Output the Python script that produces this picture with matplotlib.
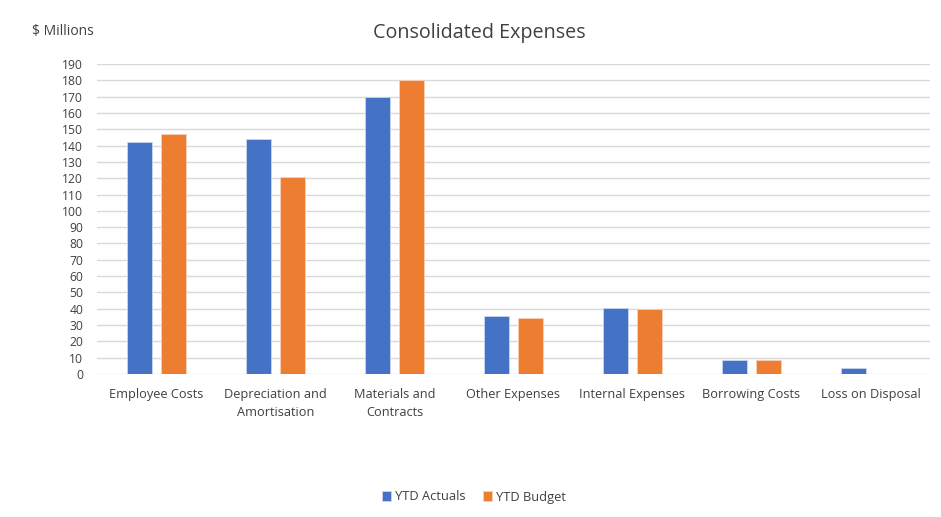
import matplotlib
matplotlib.use("Agg")
import matplotlib.pyplot as plt
import numpy as np

categories = ["Employee Costs", "Depreciation and\nAmortisation", "Materials and\nContracts",
              "Other Expenses", "Internal Expenses", "Borrowing Costs", "Loss on Disposal"]
ytd_actuals = [142.0, 144.0, 169.5, 35.3, 40.4, 8.6, 3.4]
ytd_budget = [147.3, 120.5, 180.4, 34.5, 39.6, 8.6, 0.0]
yticks = list(range(0, 191, 10))

plt.rcParams['font.family'] = ['Open Sans', 'DejaVu Sans']

fig = plt.figure(figsize=(9.41, 5.17), dpi=100)
ax = fig.add_axes([97/941, 1-374/517, (930-97)/941, (374-64)/517])

x = np.arange(len(categories))
w = 0.218
off = 0.143
ax.bar(x - off, ytd_actuals, width=w, color="#4472C4", label="YTD Actuals", zorder=3,
       edgecolor="#c8d6f0", linewidth=0.6)
ax.bar(x + off, ytd_budget, width=w, color="#ED7D31", label="YTD Budget", zorder=3,
       edgecolor="#f8d2b8", linewidth=0.6)

ax.set_xlim(-0.5, len(categories) - 0.5)
ax.set_ylim(0, 190)
ax.set_yticks(yticks)
ax.set_yticklabels([str(t) for t in yticks], fontsize=8.7, color="#404040")
ax.set_xticks(x)
ax.set_xticklabels(categories, fontsize=9.2, color="#404040", linespacing=1.5)
ax.tick_params(axis='both', length=0)
ax.tick_params(axis='x', pad=10)
ax.tick_params(axis='y', pad=10)
ax.grid(axis='y', color="#d9d9d9", linewidth=1.0, zorder=0)
for s in ax.spines.values():
    s.set_visible(False)

fig.text(479/941, 1-33/517, "Consolidated Expenses", ha='center', va='center',
         fontsize=14.2, color="#404040")
fig.text(32/941, 1-32/517, "$ Millions", ha='left', va='center', fontsize=10, color="#404040")

leg = fig.legend(loc='center', bbox_to_anchor=(474/941, 1-497/517), ncol=2, frameon=False,
                 fontsize=9.3, handlelength=0.7, handleheight=0.7, handletextpad=0.3,
                 columnspacing=1.3)
for t in leg.get_texts():
    t.set_color("#404040")

fig.savefig("out.png", dpi=100)
